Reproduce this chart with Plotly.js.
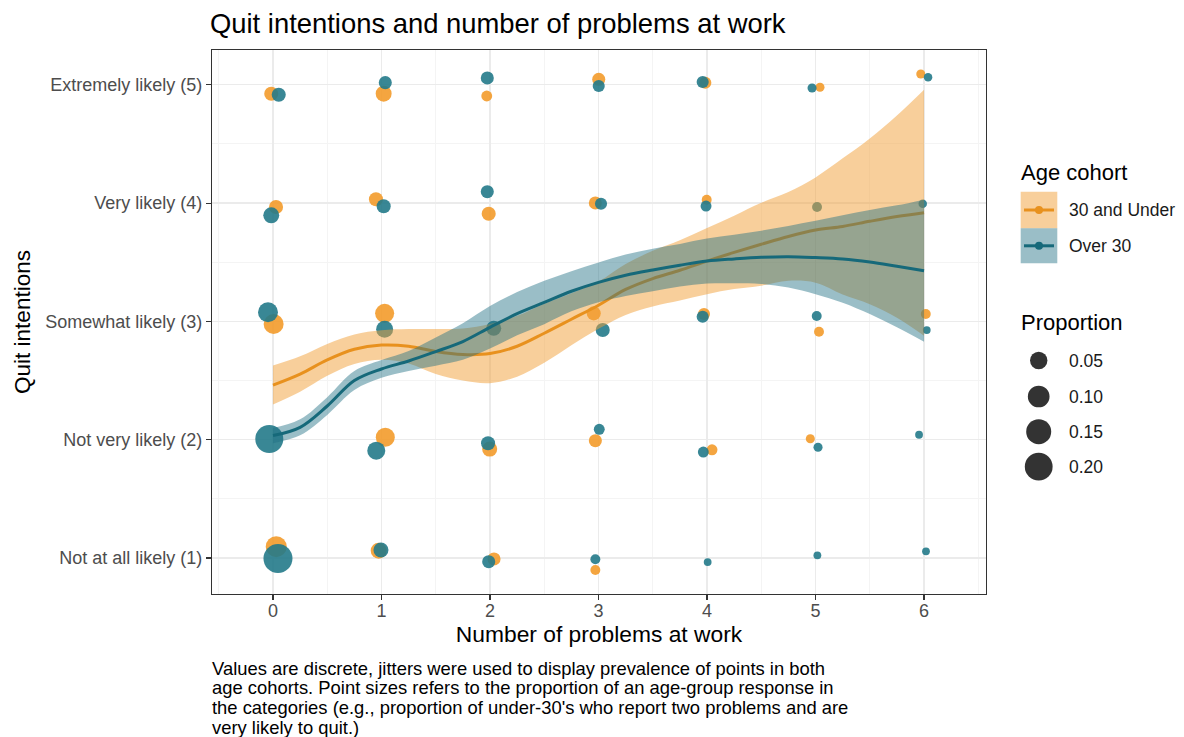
<!DOCTYPE html>
<html>
<head>
<meta charset="utf-8">
<script src="https://cdn.plot.ly/plotly-3.0.1.min.js"></script>
<style>html,body{margin:0;padding:0;background:#fff;}#chart{width:1184px;height:737px;}</style>
</head>
<body>
<div id="chart"></div>
<script>
// ---------- data ----------
const yTickVals = [1, 2, 3, 4, 5];
const yTickText = ["Not at all likely (1)", "Not very likely (2)", "Somewhat likely (3)", "Very likely (4)", "Extremely likely (5)"];
const xTickVals = [0, 1, 2, 3, 4, 5, 6];

// 30 and Under (jittered points)
const underX = [-0.016, 1.020, 1.970, 3.002, 3.984, 5.041, 5.970, 0.028, 0.949, 1.988, 2.971, 3.997, 0.006, 1.029, 2.956, 3.972, 5.032, 6.016, 1.035, 1.997, 2.971, 4.046, 4.952, 0.030, 0.974, 2.037, 2.971];
const underY = [4.925, 4.925, 4.905, 5.046, 5.017, 4.979, 5.091, 3.967, 4.032, 3.910, 4.001, 4.029, 2.978, 3.068, 3.068, 3.063, 2.913, 3.063, 2.020, 1.921, 1.992, 1.915, 2.008, 1.096, 1.062, 0.992, 0.899];
const underProp = [0.023, 0.037, 0.007, 0.017, 0.012, 0.002, 0.002, 0.023, 0.023, 0.023, 0.017, 0.004, 0.078, 0.067, 0.023, 0.012, 0.004, 0.004, 0.067, 0.030, 0.017, 0.007, 0.002, 0.091, 0.037, 0.017, 0.004];

// Over 30 (jittered points)
const overX = [0.053, 1.035, 1.975, 3.002, 3.960, 4.968, 6.037, -0.016, 1.020, 1.975, 3.023, 3.991, 5.014, 5.988, -0.046, 1.029, 2.034, 3.039, 3.960, 5.011, 6.025, -0.034, 0.952, 1.982, 3.007, 3.966, 5.023, 5.954, 0.046, 0.995, 1.988, 2.971, 4.006, 5.017, 6.018];
const overY = [4.916, 5.018, 5.058, 4.990, 5.024, 4.973, 5.063, 3.897, 3.973, 4.096, 3.995, 3.975, 3.967, 3.995, 3.077, 2.933, 2.942, 2.927, 3.040, 3.046, 2.927, 2.006, 1.907, 1.970, 2.088, 1.896, 1.936, 2.042, 0.997, 1.068, 0.969, 0.989, 0.966, 1.023, 1.057];
const overProp = [0.023, 0.017, 0.017, 0.012, 0.012, 0.002, 0.001, 0.037, 0.023, 0.017, 0.012, 0.007, 0.004, 0.001, 0.078, 0.046, 0.030, 0.023, 0.012, 0.004, 0.0003, 0.204, 0.056, 0.023, 0.007, 0.007, 0.002, 0.0003, 0.224, 0.030, 0.017, 0.004, 0.0003, 0.0003, 0.0003];

// Loess fits and standard-error half widths
const smoothX = [0, 0.25, 0.5, 0.75, 1, 1.25, 1.5, 1.75, 2, 2.25, 2.5, 2.75, 3, 3.25, 3.5, 3.75, 4, 4.25, 4.5, 4.75, 5, 5.25, 5.5, 5.75, 6];
const underFit = [2.462, 2.555, 2.675, 2.765, 2.80, 2.79, 2.745, 2.72, 2.728, 2.79, 2.90, 3.018, 3.137, 3.27, 3.362, 3.432, 3.51, 3.583, 3.652, 3.718, 3.772, 3.803, 3.846, 3.886, 3.919];
const underSE = [0.165, 0.15, 0.135, 0.125, 0.125, 0.145, 0.19, 0.22, 0.25, 0.257, 0.25, 0.22, 0.20, 0.215, 0.235, 0.255, 0.28, 0.31, 0.35, 0.375, 0.445, 0.575, 0.70, 0.855, 1.04];
const overFit = [2.035, 2.105, 2.285, 2.50, 2.598, 2.665, 2.745, 2.83, 2.95, 3.065, 3.16, 3.255, 3.33, 3.39, 3.435, 3.475, 3.51, 3.528, 3.542, 3.547, 3.54, 3.528, 3.502, 3.466, 3.429];
const overSE = [0.064, 0.068, 0.075, 0.08, 0.075, 0.085, 0.12, 0.155, 0.18, 0.183, 0.183, 0.17, 0.168, 0.175, 0.18, 0.18, 0.19, 0.205, 0.225, 0.26, 0.31, 0.37, 0.44, 0.515, 0.60];

const cohortNames = ["30 and Under", "Over 30"];
const sizeLegendVals = [0.05, 0.10, 0.15, 0.20];
const sizeLegendText = ["0.05", "0.10", "0.15", "0.20"];
const captionLines = [
  "Values are discrete, jitters were used to display prevalence of points in both",
  "age cohorts. Point sizes refers to the proportion of an age-group response in",
  "the categories (e.g., proportion of under-30's who report two problems and are",
  "very likely to quit.)"
];

// ---------- styling ----------
const FONT = "Liberation Sans, Arial, Helvetica, sans-serif";
const ORANGE_PT = "#F39B2B", TEAL_PT = "#237A8A";
const ORANGE_LN = "#E8911E", TEAL_LN = "#16697A";
const ORANGE_FILL = "rgba(242,160,55,0.5)", TEAL_FILL = "rgba(30,110,130,0.45)";
const sizeFn = v => 7 + 46.5 * Math.sqrt(v);

const add = (a, b, s) => a.map((v, i) => v + s * b[i]);

const traces = [
  {x: underX, y: underY, type: "scatter", mode: "markers", hoverinfo: "skip", showlegend: false,
   marker: {color: ORANGE_PT, opacity: 0.9, size: underProp.map(sizeFn), line: {width: 0}}},
  {x: overX, y: overY, type: "scatter", mode: "markers", hoverinfo: "skip", showlegend: false,
   marker: {color: TEAL_PT, opacity: 0.9, size: overProp.map(sizeFn), line: {width: 0}}},
  // orange ribbon + line
  {x: smoothX, y: add(underFit, underSE, -1), type: "scatter", mode: "lines", line: {width: 0, shape: "spline"}, showlegend: false, hoverinfo: "skip"},
  {x: smoothX, y: add(underFit, underSE, 1), type: "scatter", mode: "lines", line: {width: 0, shape: "spline"}, fill: "tonexty", fillcolor: ORANGE_FILL, showlegend: false, hoverinfo: "skip"},
  {x: smoothX, y: underFit, type: "scatter", mode: "lines", line: {color: ORANGE_LN, width: 3, shape: "spline"}, showlegend: false, hoverinfo: "skip"},
  // teal ribbon + line
  {x: smoothX, y: add(overFit, overSE, -1), type: "scatter", mode: "lines", line: {width: 0, shape: "spline"}, showlegend: false, hoverinfo: "skip"},
  {x: smoothX, y: add(overFit, overSE, 1), type: "scatter", mode: "lines", line: {width: 0, shape: "spline"}, fill: "tonexty", fillcolor: TEAL_FILL, showlegend: false, hoverinfo: "skip"},
  {x: smoothX, y: overFit, type: "scatter", mode: "lines", line: {color: TEAL_LN, width: 3, shape: "spline"}, showlegend: false, hoverinfo: "skip"}
];

// ---------- legend (paper coords: px -> paper) ----------
const L = 212, R = 986, T = 50, B = 594;
const px = v => (v - L) / (R - L);
const py = v => (B - v) / (B - T);

const shapes = [];
const annotations = [];

annotations.push({xref: "paper", yref: "paper", x: px(1019), y: py(172), xanchor: "left", yanchor: "middle",
  text: "Age cohort", showarrow: false, font: {family: FONT, size: 22, color: "#000"}});
const keyRows = [{y0: 191.7, y1: 228.3, fill: ORANGE_FILL, ln: ORANGE_LN}, {y0: 228.3, y1: 263.3, fill: TEAL_FILL, ln: TEAL_LN}];
keyRows.forEach((k, i) => {
  const yc = (k.y0 + k.y1) / 2;
  shapes.push({type: "rect", xref: "paper", yref: "paper", x0: px(1020.7), x1: px(1057.3), y0: py(k.y1), y1: py(k.y0), fillcolor: k.fill, line: {width: 0}});
  shapes.push({type: "line", xref: "paper", yref: "paper", x0: px(1024), x1: px(1054), y0: py(yc), y1: py(yc), line: {color: k.ln, width: 3}});
  shapes.push({type: "circle", xref: "paper", yref: "paper", xsizemode: "pixel", ysizemode: "pixel",
    xanchor: px(1039), yanchor: py(yc), x0: -4, x1: 4, y0: -4, y1: 4, fillcolor: k.ln, line: {width: 0}});
  annotations.push({xref: "paper", yref: "paper", x: px(1067), y: py(yc), xanchor: "left", yanchor: "middle",
    text: cohortNames[i], showarrow: false, font: {family: FONT, size: 17.5, color: "#1a1a1a"}});
});

annotations.push({xref: "paper", yref: "paper", x: px(1019), y: py(322), xanchor: "left", yanchor: "middle",
  text: "Proportion", showarrow: false, font: {family: FONT, size: 22, color: "#000"}});
const sizeRowsY = [360.5, 396.5, 431.7, 466.7];
sizeLegendVals.forEach((v, i) => {
  const r = sizeFn(v) / 2;
  shapes.push({type: "circle", xref: "paper", yref: "paper", xsizemode: "pixel", ysizemode: "pixel",
    xanchor: px(1038.7), yanchor: py(sizeRowsY[i]), x0: -r, x1: r, y0: -r, y1: r, fillcolor: "#333333", line: {width: 0}});
  annotations.push({xref: "paper", yref: "paper", x: px(1067), y: py(sizeRowsY[i]), xanchor: "left", yanchor: "middle",
    text: sizeLegendText[i], showarrow: false, font: {family: FONT, size: 17.5, color: "#1a1a1a"}});
});

// caption (one annotation per line for ggplot-like tight line height)
const captionY = [668, 687.7, 707.4, 727];
captionLines.forEach((t, i) => {
  annotations.push({xref: "paper", yref: "paper", x: px(210), y: py(captionY[i]), xanchor: "left", yanchor: "middle", align: "left",
    text: t, showarrow: false, font: {family: FONT, size: 18.4, color: "#000"}});
});

const axisCommon = {
  showline: true, mirror: true, linecolor: "#333333", linewidth: 1.2,
  ticks: "outside", ticklen: 5, tickwidth: 1.2, tickcolor: "#333333",
  showgrid: true, gridcolor: "#EBEBEB", gridwidth: 1.3, zeroline: false,
  tickfont: {family: FONT, size: 18, color: "#4D4D4D"}, fixedrange: true
};

const layout = {
  width: 1184, height: 737,
  margin: {l: L, r: 1184 - R, t: T, b: 737 - B},
  paper_bgcolor: "#fff", plot_bgcolor: "#fff",
  showlegend: false,
  title: {text: "Quit intentions and number of problems at work", x: 210 / 1184, xref: "container", xanchor: "left",
    y: 1 - 23 / 737, yref: "container", yanchor: "middle", font: {family: FONT, size: 27.4, color: "#000"}},
  xaxis: Object.assign({}, axisCommon, {
    range: [-0.562, 6.571], tickmode: "array", tickvals: xTickVals, ticklabelstandoff: -5,
    minor: {dtick: 0.5, tick0: 0.5, showgrid: true, gridcolor: "#F4F4F4", gridwidth: 1, ticks: ""},
    title: {text: "Number of problems at work", font: {family: FONT, size: 22.8, color: "#000"}, standoff: 4}
  }),
  yaxis: Object.assign({}, axisCommon, {
    range: [0.696, 5.294], tickmode: "array", tickvals: yTickVals, ticktext: yTickText,
    minor: {tickmode: "array", tickvals: [1.5, 2.5, 3.5, 4.5], showgrid: true, gridcolor: "#F4F4F4", gridwidth: 1, ticks: ""},
    title: {text: "Quit intentions", font: {family: FONT, size: 22.5, color: "#000"}, standoff: 8}
  }),
  shapes: shapes,
  annotations: annotations
};

Plotly.newPlot("chart", traces, layout, {displayModeBar: false, staticPlot: true});
</script>
</body>
</html>
